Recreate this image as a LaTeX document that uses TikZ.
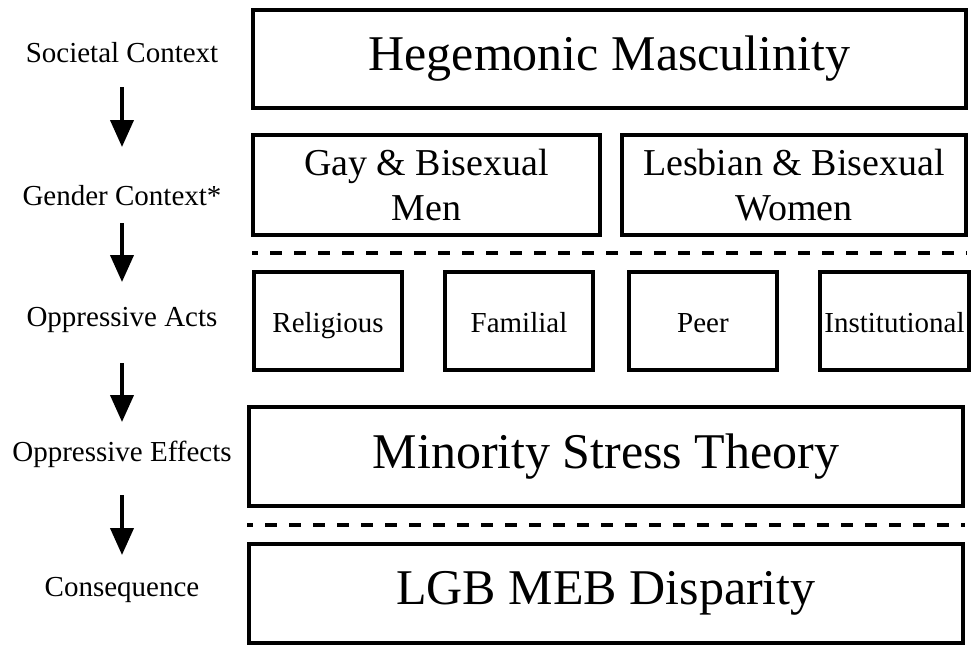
\documentclass[tikz,border=0pt]{standalone}
\usepackage{fontspec}
\setmainfont{Liberation Serif}
\usetikzlibrary{arrows.meta}
\begin{document}
\begin{tikzpicture}[x=1pt,y=-1pt,
 box/.style={draw, line width=4pt, rectangle, inner sep=0pt, align=center},
 big/.style={box, font=\fontsize{50}{60}\selectfont},
 mid/.style={box, font=\fontsize{38}{45}\selectfont},
 small/.style={box, font=\fontsize{29}{34}\selectfont, minimum height=98pt, text height=22pt, text depth=0pt},
 lbl/.style={font=\fontsize{29}{34}\selectfont, anchor=base, inner sep=0pt},
 arr/.style={line width=4pt, -{Triangle[width=23pt,length=27pt]}},
 dsh/.style={line width=4pt, dash pattern=on 12pt off 12pt, dash phase=6pt}]
\useasboundingbox (0,0) rectangle (973,649);
% left labels
\node[lbl] (soc) at (122,62) {Societal Context};
\node[lbl] (gen) at (122,205) {Gender Context*};
\node[lbl] (act) at (122,326) {Oppressive Acts};
\node[lbl] (eff) at (122,461) {Oppressive Effects};
\node[lbl] (con) at (122,596) {Consequence};
% arrows
\draw[arr, shorten <=25pt, shorten >=58pt] (soc.base) -- (gen.base);
\draw[arr, shorten <=18pt, shorten >=44pt] (gen.base) -- (act.base);
\draw[arr, shorten <=37pt, shorten >=39pt] (act.base) -- (eff.base);
\draw[arr, shorten <=34pt, shorten >=41pt] (eff.base) -- (con.base);
% boxes
\node[big, minimum width=713pt, minimum height=98pt] (heg) at (609.5,59) {Hegemonic Masculinity};
\node[mid, minimum width=347pt, minimum height=100pt] (gay) at (426.5,185) {Gay \& Bisexual\\Men};
\node[mid, minimum width=344pt, minimum height=100pt] (les) at (794,185) {Lesbian \& Bisexual\\Women};
\node[small, minimum width=148pt] (rel) at (328,321) {Religious};
\node[small, minimum width=148pt] (fam) at (519,321) {Familial};
\node[small, minimum width=148pt] (peer) at (703,321) {Peer};
\node[small, minimum width=149pt] (inst) at (894.5,321) {Institutional};
\node[big, minimum width=714pt, minimum height=99pt] (mst) at (606,456.5) {Minority Stress Theory};
\node[big, minimum width=714pt, minimum height=99pt] (lgb) at (606,593.5) {LGB MEB Disparity};
% dashed separators
\coordinate (d1l) at (252,253);
\coordinate (d1r) at (967,253);
\coordinate (d2l) at (247,525);
\coordinate (d2r) at (965,525);
\draw[dsh] (d1l) -- (d1r);
\draw[dsh] (d2l) -- (d2r);
\end{tikzpicture}
\end{document}
